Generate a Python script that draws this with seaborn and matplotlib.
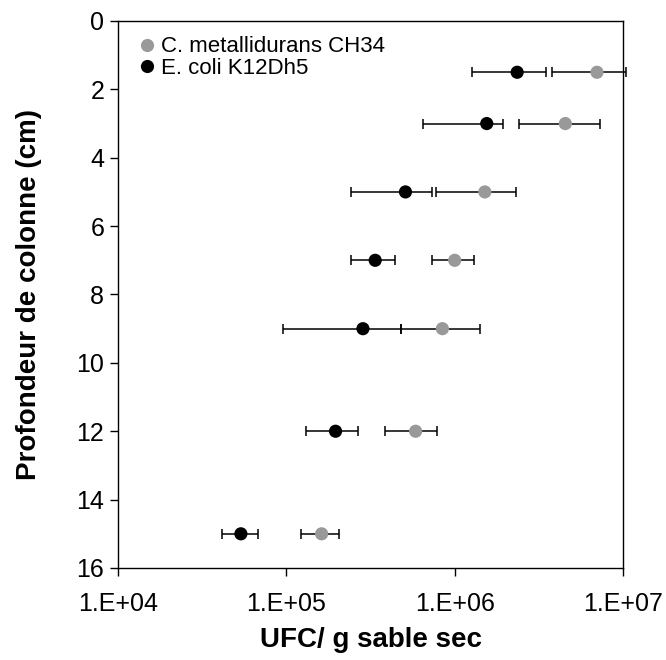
import seaborn as sns
import matplotlib
matplotlib.use("Agg")
import matplotlib.pyplot as plt
import pandas as pd
import numpy as np

# profondeur (cm)
depth = [1.5, 3, 5, 7, 9, 12, 15]

# C. metallidurans CH34
cm_val = [7.0e6, 4.54e6, 1.51e6, 1.0e6, 8.45e5, 5.86e5, 1.62e5]
cm_low = [3.77e6, 2.42e6, 7.7e5, 7.3e5, 4.8e5, 3.87e5, 1.23e5]
cm_high = [1.04e7, 7.3e6, 2.32e6, 1.30e6, 1.42e6, 7.8e5, 2.05e5]

# E. coli K12Dh5
ec_val = [2.35e6, 1.55e6, 5.1e5, 3.37e5, 2.85e5, 1.96e5, 5.37e4]
ec_low = [1.27e6, 6.5e5, 2.42e5, 2.42e5, 9.5e4, 1.31e5, 4.13e4]
ec_high = [3.49e6, 1.94e6, 7.3e5, 4.43e5, 4.8e5, 2.65e5, 6.8e4]

labels = ["C. metallidurans CH34", "E. coli K12Dh5"]
colors = ["#999999", "#000000"]

df = pd.DataFrame({
    "depth": depth * 2,
    "ufc": cm_val + ec_val,
    "low": cm_low + ec_low,
    "high": cm_high + ec_high,
    "souche": [labels[0]] * len(depth) + [labels[1]] * len(depth),
})

sns.set_style("ticks")
plt.rcParams["font.family"] = ["Liberation Sans", "DejaVu Sans"]
plt.rcParams["text.color"] = "black"
plt.rcParams["axes.labelcolor"] = "black"

fig = plt.figure(figsize=(6.66, 6.6), dpi=100)
ax = fig.add_axes([0.1772, 0.1394, 0.7583, 0.8288])

# barres d'erreur (non coupées au bord du cadre)
for lab in labels:
    d = df[df["souche"] == lab]
    eb = ax.errorbar(d["ufc"], d["depth"],
                     xerr=[d["ufc"] - d["low"], d["high"] - d["ufc"]],
                     fmt="none", ecolor="black", elinewidth=1.1,
                     capsize=3.4, capthick=1.1, zorder=2)
    for art in eb.lines[1] + eb.lines[2]:
        art.set_clip_on(False)

sns.scatterplot(data=df, x="ufc", y="depth", hue="souche",
                palette=colors, s=90, edgecolor="none", ax=ax, zorder=3)

ax.set_xscale("log")
ax.set_xlim(1e4, 1e7)
ax.set_ylim(16, 0)
ax.set_yticks(np.arange(0, 17, 2))
ax.set_xticks([1e4, 1e5, 1e6, 1e7])
ax.xaxis.set_minor_locator(matplotlib.ticker.NullLocator())
ax.xaxis.set_major_formatter(matplotlib.ticker.FuncFormatter(
    lambda v, p: "1.E+%02d" % round(np.log10(v))))

ax.tick_params(axis="both", labelsize=18, direction="out", length=6,
               width=1, colors="black")
ax.tick_params(axis="x", pad=11)
ax.tick_params(axis="y", pad=4)
for s in ax.spines.values():
    s.set_color("black")
    s.set_linewidth(1)

ax.set_xlabel("UFC/ g sable sec", fontsize=20, fontweight="bold", color="black")
ax.set_ylabel("Profondeur de colonne (cm)", fontsize=20, fontweight="bold",
              color="black")
ax.xaxis.set_label_coords(0.5, -0.108)
ax.yaxis.set_label_coords(-0.15, 0.5)

leg = ax.legend(title=None, loc="upper left", frameon=False, fontsize=16,
                handlelength=0.8, handletextpad=0.23, borderpad=0,
                borderaxespad=0, labelspacing=0.02, markerscale=1.0,
                bbox_to_anchor=(0.04, 0.972), labelcolor="black")

plt.savefig("out.png", dpi=100)
